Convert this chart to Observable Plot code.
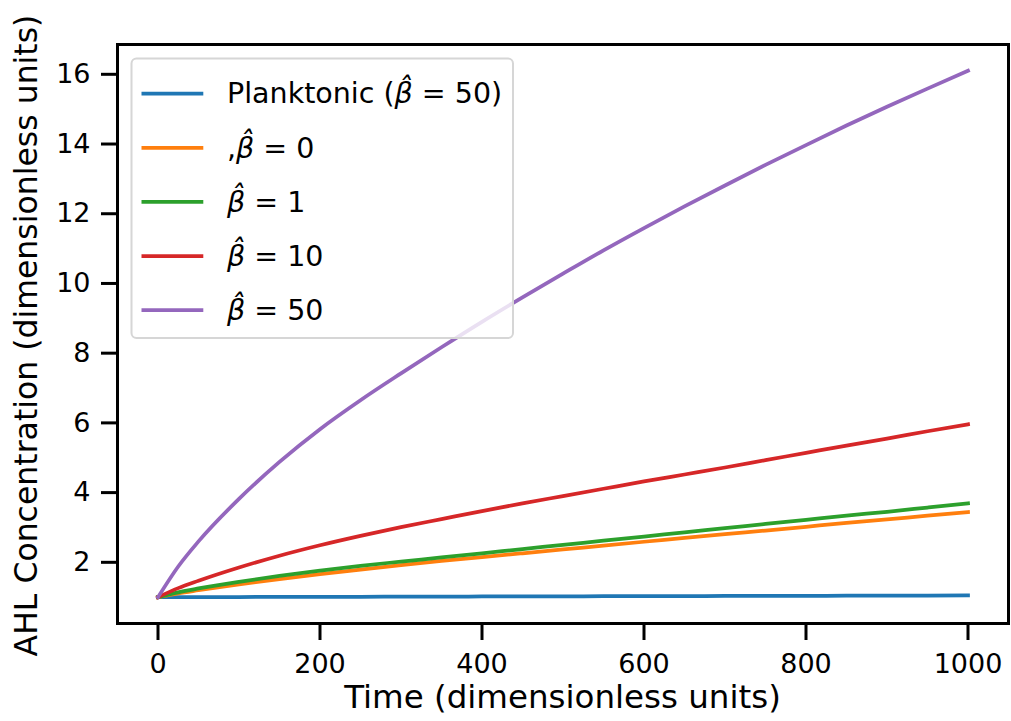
<!DOCTYPE html>
<html>
<head>
<meta charset="utf-8">
<script src="https://cdn.jsdelivr.net/npm/d3@7"></script>
<script src="https://cdn.jsdelivr.net/npm/@observablehq/plot@0.6"></script>
<style>
  html, body { margin: 0; padding: 0; background: #fff; }
  #chart { width: 1011px; height: 721px; }
</style>
</head>
<body>
<div id="chart"></div>
<script>
// ---- data ----
const time = [0, 25, 50, 100, 150, 200, 250, 300, 350, 400, 450, 500, 550, 600, 650, 700, 750, 800, 850, 900, 950, 1000];
const planktonic = [1.0, 1.001, 1.003, 1.005, 1.008, 1.01, 1.012, 1.015, 1.018, 1.02, 1.022, 1.025, 1.027, 1.03, 1.032, 1.035, 1.037, 1.04, 1.042, 1.045, 1.047, 1.05];
const beta0 = [1.0, 1.11, 1.2, 1.37, 1.52, 1.66, 1.79, 1.92, 2.04, 2.15, 2.26, 2.37, 2.48, 2.59, 2.7, 2.81, 2.91, 3.02, 3.13, 3.23, 3.34, 3.44];
const beta1 = [1.0, 1.14, 1.25, 1.44, 1.61, 1.76, 1.9, 2.02, 2.14, 2.26, 2.38, 2.5, 2.62, 2.74, 2.86, 2.98, 3.1, 3.22, 3.34, 3.45, 3.57, 3.69];
const beta10 = [1.0, 1.26, 1.47, 1.85, 2.19, 2.49, 2.76, 3.01, 3.24, 3.47, 3.69, 3.9, 4.11, 4.32, 4.52, 4.72, 4.93, 5.14, 5.35, 5.55, 5.76, 5.96];
const beta50 = [1.0, 1.88, 2.6, 3.82, 4.88, 5.82, 6.65, 7.42, 8.17, 8.9, 9.6, 10.28, 10.95, 11.59, 12.21, 12.81, 13.4, 13.97, 14.53, 15.07, 15.59, 16.1];

const seriesKeys = ["planktonic", "b0", "b1", "b10", "b50"];
const seriesValues = [planktonic, beta0, beta1, beta10, beta50];
const seriesColors = ["#1f77b4", "#ff7f0e", "#2ca02c", "#d62728", "#9467bd"];
const legendPrefix = ["Planktonic (", ",", "", "", ""];
const legendSuffix = [" = 50)", " = 0", " = 1", " = 10", " = 50"];

const xTicks = [0, 200, 400, 600, 800, 1000];
const yTicks = [2, 4, 6, 8, 10, 12, 14, 16];
const xLabel = "Time (dimensionless units)";
const yLabel = "AHL Concentration (dimensionless units)";

// ---- tidy table ----
const rows = [];
seriesKeys.forEach((k, i) => {
  time.forEach((t, j) => rows.push({ t, v: seriesValues[i][j], key: k }));
});

const FONT = "DejaVu Sans";

const svg = Plot.plot({
  width: 1011,
  height: 721,
  marginLeft: 117,
  marginRight: 3,
  marginTop: 44,
  marginBottom: 98,
  style: { fontFamily: FONT, background: "white", color: "black" },
  x: { domain: [-50, 1050] },
  y: { domain: [0.245, 16.855] },
  color: { domain: seriesKeys, range: seriesColors },
  marks: [
    Plot.lineY(rows, { x: "t", y: "v", z: "key", stroke: "key", strokeWidth: 3.75, curve: "monotone-x", strokeLinecap: "square" }),
    Plot.frame({ stroke: "black", strokeWidth: 3 }),
    Plot.axisX({ ticks: xTicks, tickSize: 17, tickPadding: 13, fontSize: 27, strokeWidth: 3, label: null, tickFormat: d => String(d) }),
    Plot.axisY({ ticks: yTicks, tickSize: 16, tickPadding: 11, fontSize: 27, strokeWidth: 3, label: null, tickFormat: d => String(d) })
  ]
});

document.getElementById("chart").appendChild(svg);

// ---- axis labels ----
const s = d3.select(svg);
s.append("text")
  .attr("x", 562.5).attr("y", 708)
  .attr("text-anchor", "middle")
  .attr("font-family", FONT).attr("font-size", 32.5).attr("fill", "black")
  .text(xLabel);
s.append("text")
  .attr("transform", "translate(36.5,335.5) rotate(-90)")
  .attr("text-anchor", "middle")
  .attr("font-family", FONT).attr("font-size", 31.5).attr("fill", "black")
  .text(yLabel);

// ---- legend ----
const lg = s.append("g");
lg.append("rect")
  .attr("x", 131.5).attr("y", 58.5).attr("width", 381.5).attr("height", 279.5)
  .attr("rx", 5).attr("fill", "white").attr("fill-opacity", 0.8)
  .attr("stroke", "#d6d6d6").attr("stroke-width", 2);
seriesKeys.forEach((k, i) => {
  const y = 93.7 + i * 54.1;
  lg.append("line")
    .attr("x1", 141.5).attr("x2", 203.3).attr("y1", y).attr("y2", y)
    .attr("stroke", seriesColors[i]).attr("stroke-width", 3.75);
  const t = lg.append("text")
    .attr("x", 227).attr("y", y + 9.7)
    .attr("text-anchor", "start")
    .attr("font-family", FONT).attr("font-size", 28.5).attr("fill", "black");
  if (legendPrefix[i]) t.append("tspan").text(legendPrefix[i]);
  t.append("tspan").attr("font-style", "italic").text("\u03B2\u0302");
  t.append("tspan").text(legendSuffix[i]);
});
</script>
</body>
</html>
